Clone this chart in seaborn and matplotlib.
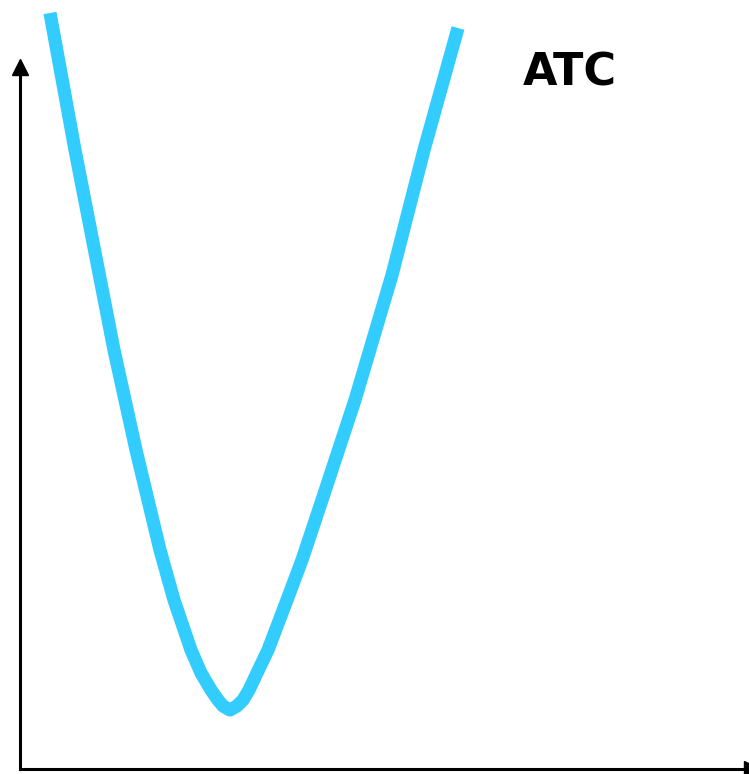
import matplotlib
matplotlib.use("Agg")
import matplotlib.pyplot as plt
import seaborn as sns
import pandas as pd

# === Andmed: keskmine kogukulu (ATC) kogusest sõltuvalt ===
quantity = [30, 55, 94, 116, 140, 154, 171, 181, 191, 198, 203, 210,
            217, 223, 229, 237, 248, 267, 282, 302, 335, 372, 404, 438]
atc = [756, 619, 419, 319, 219, 169, 119, 96, 79, 69, 63, 59,
       63, 69, 79, 96, 119, 169, 209, 269, 369, 494, 619, 741]
curve_label = "ATC"

df = pd.DataFrame({"q": quantity, "atc": atc})

sns.set_style("white")
plt.rcParams['font.family'] = ['DejaVu Sans']

fig = plt.figure(figsize=(7.49, 7.74), dpi=100)
ax = fig.add_axes([20 / 749, 5 / 774, 1 - 20 / 749, 1 - 5 / 774])
ax.set_xlim(0, 729)
ax.set_ylim(0, 769)

sns.lineplot(data=df, x="q", y="atc", sort=False, ax=ax, color="#33CCFF",
             linewidth=9.5, solid_joinstyle="round", solid_capstyle="butt",
             clip_on=False)

# telgede nooled
for s in ["top", "right"]:
    ax.spines[s].set_visible(False)
ax.spines["left"].set_bounds(0, 700)
for s in ["left", "bottom"]:
    ax.spines[s].set_linewidth(2.2)
    ax.spines[s].set_color("black")
ax.plot(0, 702, marker="^", color="black", markersize=11, clip_on=False)
ax.plot(732, 0, marker=">", color="black", markersize=11, clip_on=False)

ax.text(503, 684, curve_label, fontsize=32, fontweight="bold",
        color="black", ha="left", va="baseline")

ax.set_xticks([])
ax.set_yticks([])
ax.set_xlabel("")
ax.set_ylabel("")

plt.savefig("out.png", dpi=100)
plt.close()
